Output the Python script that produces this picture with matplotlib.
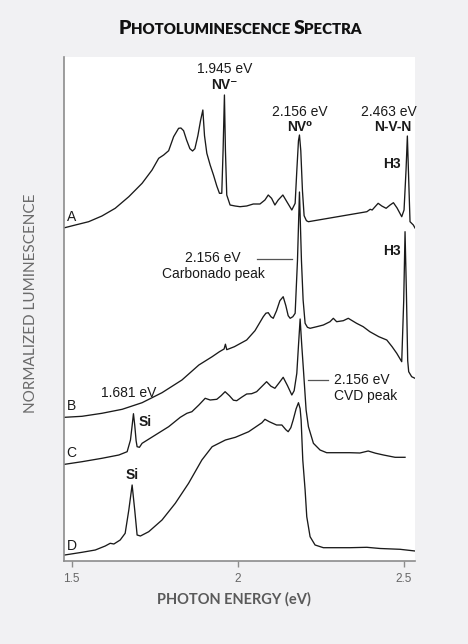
import numpy as np
import matplotlib
matplotlib.use('Agg')
import matplotlib.pyplot as plt

# spectra (photon energy in eV, luminescence in arbitrary offset units)
a_ev = [1.479, 1.511, 1.551, 1.591, 1.631, 1.672, 1.712, 1.742, 1.762, 1.777, 1.792, 1.807,
        1.822, 1.829, 1.837, 1.846, 1.856, 1.864, 1.871, 1.880, 1.888, 1.895, 1.900, 1.907,
        1.917, 1.927, 1.937, 1.945, 1.952, 1.956, 1.960, 1.963, 1.967, 1.977, 1.992, 2.007,
        2.027, 2.047, 2.067, 2.082, 2.092, 2.102, 2.112, 2.122, 2.136, 2.148, 2.163, 2.173,
        2.178, 2.183, 2.186, 2.190, 2.195, 2.200, 2.207, 2.213, 2.389, 2.399, 2.405, 2.413,
        2.423, 2.434, 2.447, 2.459, 2.469, 2.480, 2.494, 2.501, 2.507, 2.511, 2.516, 2.519,
        2.529, 2.534]
a_int = [333.0, 335.7, 339.0, 344.7, 352.4, 364.0, 377.4, 390.7, 402.4, 405.7, 410.0, 424.0,
         432.4, 432.7, 430.0, 420.7, 412.0, 409.7, 412.0, 425.0, 440.0, 450.7, 425.0, 407.4,
         395.7, 385.7, 374.7, 367.4, 367.4, 410.7, 465.7, 410.7, 365.7, 355.7, 354.7, 354.0,
         354.7, 356.7, 356.7, 360.7, 365.7, 362.4, 355.7, 360.7, 365.7, 359.0, 350.7, 357.4,
         390.0, 420.0, 425.7, 410.0, 370.0, 345.0, 340.0, 339.0, 349.0, 351.4, 350.7, 353.7,
         357.4, 354.7, 352.4, 355.7, 358.0, 352.7, 344.0, 350.7, 390.7, 424.7, 370.7, 339.0,
         335.7, 332.7]

b_ev = [1.479, 1.531, 1.591, 1.652, 1.712, 1.772, 1.832, 1.883, 1.923, 1.945, 1.959, 1.963,
        1.967, 1.990, 2.027, 2.052, 2.077, 2.085, 2.092, 2.100, 2.107, 2.117, 2.127, 2.137,
        2.145, 2.152, 2.158, 2.166, 2.173, 2.180, 2.186, 2.192, 2.197, 2.203, 2.210, 2.218,
        2.238, 2.258, 2.278, 2.288, 2.298, 2.318, 2.333, 2.358, 2.378, 2.398, 2.425, 2.449,
        2.465, 2.479, 2.494, 2.500, 2.504, 2.508, 2.512, 2.515, 2.524, 2.534]
b_int = [143.4, 144.4, 147.4, 151.4, 158.0, 168.0, 180.7, 195.7, 204.0, 209.0, 211.7, 216.5,
         211.0, 214.0, 220.7, 230.0, 244.0, 247.5, 248.0, 244.0, 242.4, 250.0, 260.0, 264.0,
         255.0, 245.0, 242.4, 244.0, 247.4, 300.0, 368.7, 300.0, 260.7, 237.4, 233.4, 232.4,
         234.0, 235.7, 239.0, 242.4, 239.0, 240.0, 242.4, 237.4, 234.0, 229.0, 224.0, 220.7,
         214.0, 207.4, 199.0, 260.0, 329.0, 270.0, 200.0, 189.0, 184.0, 182.4]

c_ev = [1.479, 1.531, 1.591, 1.642, 1.667, 1.677, 1.682, 1.686, 1.690, 1.694, 1.697, 1.704,
        1.712, 1.752, 1.792, 1.827, 1.847, 1.862, 1.883, 1.902, 1.917, 1.937, 1.950, 1.962,
        1.975, 1.987, 1.997, 2.012, 2.027, 2.042, 2.057, 2.072, 2.087, 2.100, 2.112, 2.125,
        2.137, 2.150, 2.163, 2.170, 2.178, 2.183, 2.188, 2.193, 2.198, 2.206, 2.213, 2.228,
        2.248, 2.268, 2.338, 2.368, 2.393, 2.415, 2.439, 2.474, 2.504]
c_int = [96.4, 99.0, 102.4, 105.7, 109.0, 120.7, 135.0, 147.0, 135.0, 120.0, 114.0, 113.4,
         117.4, 125.7, 134.0, 143.4, 147.4, 149.0, 155.7, 162.4, 160.7, 161.4, 165.0, 169.0,
         165.0, 160.5, 160.0, 163.5, 166.7, 167.0, 169.0, 174.0, 179.0, 174.5, 172.4, 178.0,
         183.4, 175.0, 165.7, 170.0, 187.4, 215.0, 241.7, 215.0, 190.7, 150.7, 134.0, 117.4,
         110.7, 108.0, 108.0, 107.7, 109.7, 107.5, 105.7, 103.4, 103.4]

d_ev = [1.479, 1.531, 1.571, 1.601, 1.616, 1.627, 1.646, 1.661, 1.672, 1.682, 1.690, 1.697,
        1.707, 1.732, 1.772, 1.812, 1.852, 1.892, 1.923, 1.963, 1.993, 2.033, 2.073, 2.082,
        2.095, 2.117, 2.133, 2.145, 2.152, 2.160, 2.167, 2.176, 2.183, 2.188, 2.191, 2.196,
        2.203, 2.208, 2.218, 2.233, 2.258, 2.338, 2.389, 2.429, 2.489, 2.534]
d_int = [5.7, 8.4, 10.7, 14.7, 17.4, 16.7, 20.7, 27.4, 50.7, 75.7, 50.0, 25.7,
         24.7, 29.0, 40.7, 57.4, 77.4, 100.7, 114.0, 120.7, 123.4, 129.0, 138.0, 141.4,
         139.0, 135.7, 135.7, 131.0, 129.0, 133.0, 140.7, 152.0, 158.0, 152.0, 140.7, 100.7,
         70.7, 44.0, 24.0, 15.7, 13.0, 13.0, 13.4, 12.2, 11.4, 9.7]

spectra = [(a_ev, a_int), (b_ev, b_int), (c_ev, c_int), (d_ev, d_int)]
curve_names = ['A', 'B', 'C', 'D']
name_y = [343.4, 154.7, 107.4, 14.7]
xticks = [1.5, 2.0, 2.5]
xticklabels = ['1.5', '2', '2.5']

W, H = 468, 644
bg = '#f1f1f3'
grey = '#8c8c8c'
lab = ['Liberation Sans', 'DejaVu Sans']

fig = plt.figure(figsize=(W / 100, H / 100), dpi=100, facecolor=bg)
ax = fig.add_axes([64 / W, 1 - 560.7 / H, 351.3 / W, 503.4 / H])
ax.set_facecolor('white')

for (ev, inten) in spectra:
    ax.plot(ev, inten, color='#1a1a1a', lw=0.95, solid_joinstyle='round')

ax.set_xlim(1.4768, 2.5349)
ax.set_ylim(0, 503.4)
ax.spines['top'].set_visible(False)
ax.spines['right'].set_visible(False)
for s in ['left', 'bottom']:
    ax.spines[s].set_color(grey)
    ax.spines[s].set_linewidth(1.2)
ax.set_yticks([])
ax.set_xticks(xticks)
ax.set_xticklabels(xticklabels, family=lab, fontsize=8.5, color='#666666')
ax.tick_params(axis='x', direction='out', length=4, width=1.0, color=grey, pad=5)

# curve letters
for n, y in zip(curve_names, name_y):
    ax.text(1.5, y, n, family=lab, fontsize=10, ha='center', va='center', color='#1a1a1a')

# peak labels
def lbl(x, y, s, bold=False, ha='center'):
    ax.text(x, y, s, family=lab, fontsize=10, ha=ha, va='center', color='#1a1a1a',
            fontweight='bold' if bold else 'normal')

lbl(1.960, 491.4, '1.945 eV')
lbl(1.960, 475.7, 'NV\u207b', bold=True)
lbl(2.186, 449.0, '2.156 eV')
lbl(2.186, 434.0, 'NV\u2070', bold=True)
lbl(2.454, 448.7, '2.463 eV')
lbl(2.467, 433.7, 'N-V-N', bold=True)
lbl(2.464, 396.7, 'H3', bold=True)
lbl(2.464, 310.0, 'H3', bold=True)
lbl(1.926, 303.0, '2.156 eV')
lbl(1.926, 286.7, 'Carbonado peak')
ax.plot([2.057, 2.163], [301.7, 301.7], color='#555555', lw=0.9)
ax.plot([2.213, 2.273], [180.7, 180.7], color='#555555', lw=0.9)
lbl(2.291, 180.7, '2.156 eV', ha='left')
lbl(2.291, 164.7, 'CVD peak', ha='left')
lbl(1.673, 168.0, '1.681 eV')
lbl(1.721, 139.0, 'Si', bold=True)
lbl(1.681, 85.7, 'Si', bold=True)

# axis titles
fig.text(234 / W, 1 - 599 / H, 'PHOTON ENERGY (eV)', family=['Lato', 'DejaVu Sans'],
         fontweight='bold', fontsize=10.5, color='#5a5a5a', ha='center', va='center')
fig.text(30.7 / W, 1 - 303 / H, 'NORMALIZED LUMINESCENCE', family=['Lato', 'DejaVu Sans'],
         fontsize=11, color='#6a6a6a', rotation=90, ha='center', va='center')

# small-caps title
pieces = [('P', 14), ('HOTOLUMINESCENCE', 10.8), (' ', 10.8), ('S', 14), ('PECTRA', 10.8)]
renderer = fig.canvas.get_renderer()
tt = []
for s, size in pieces:
    tt.append(fig.text(0, 1 - 34.5 / H, s, family=['Lato', 'DejaVu Sans'], fontweight='heavy',
                       fontsize=size, color='#111111', va='baseline'))
widths = []
for t, (s, size) in zip(tt, pieces):
    if s == ' ':
        widths.append(size * 0.3)
    else:
        widths.append(t.get_window_extent(renderer).width)
x0 = 240 - sum(widths) / 2
for t, w in zip(tt, widths):
    t.set_x(x0 / W)
    x0 += w

fig.savefig('out.png', dpi=100, facecolor=bg)
